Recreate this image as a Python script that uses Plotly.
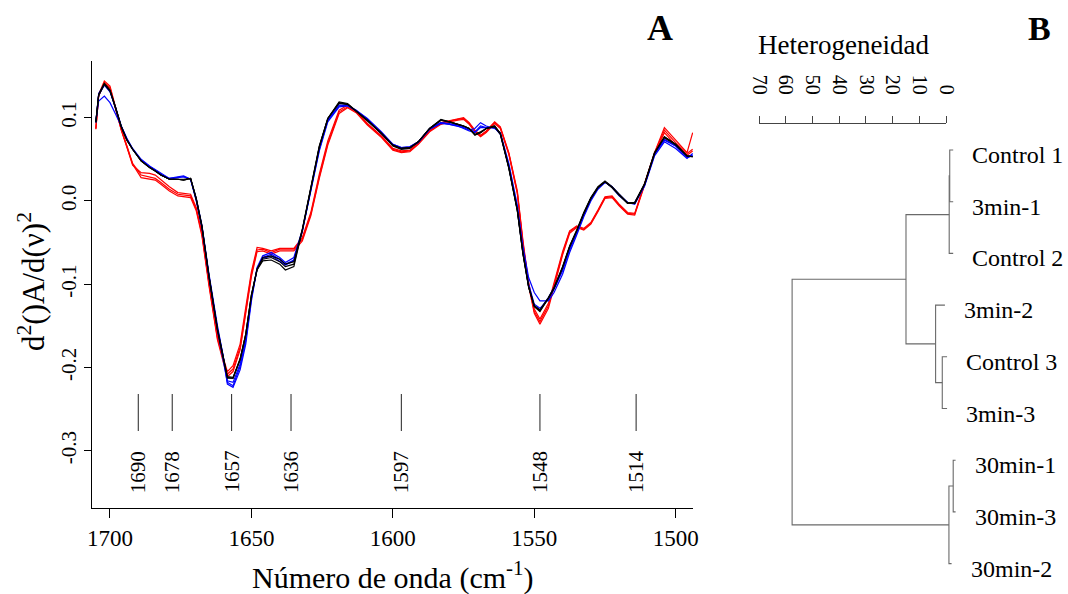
import plotly.graph_objects as go

W, H = 1068, 594
FONT = "Liberation Serif"

# ---------------- Panel A: second-derivative spectra ----------------
wavenumber = [1705, 1704, 1702, 1700, 1698, 1696, 1694, 1692, 1689, 1686,
              1684, 1682, 1679, 1676, 1674, 1671.5, 1669.5, 1667.5, 1665, 1662,
              1660, 1658.5, 1656.5, 1654, 1652, 1650, 1648, 1646, 1643, 1640,
              1638, 1635, 1632, 1629, 1626, 1623, 1619, 1616, 1613, 1609,
              1604, 1600, 1597, 1594, 1591, 1587, 1583, 1580, 1577, 1575,
              1573, 1571, 1569, 1567, 1564, 1562, 1559, 1556, 1554, 1552,
              1550, 1548, 1545, 1543, 1540, 1537.5, 1535, 1532.5, 1530, 1527.5,
              1525, 1522.5, 1520, 1517, 1514.5, 1511, 1507.5, 1504, 1500, 1496,
              1494]

control_1 = [0.095, 0.128, 0.141, 0.133, 0.112, 0.089, 0.073, 0.062, 0.048, 0.040,
             0.036, 0.031, 0.026, 0.026, 0.025, 0.027, 0.002, -0.031, -0.091, -0.155,
             -0.188, -0.213, -0.213, -0.190, -0.160, -0.113, -0.083, -0.072, -0.071, -0.076,
             -0.083, -0.079, -0.035, 0.015, 0.065, 0.099, 0.119, 0.117, 0.108, 0.097,
             0.081, 0.067, 0.063, 0.064, 0.071, 0.087, 0.098, 0.095, 0.092, 0.090,
             0.087, 0.079, 0.082, 0.087, 0.090, 0.081, 0.040, -0.011, -0.063, -0.103,
             -0.127, -0.133, -0.117, -0.105, -0.080, -0.055, -0.036, -0.015, 0.003, 0.016,
             0.023, 0.016, 0.007, -0.003, -0.003, 0.020, 0.057, 0.077, 0.068, 0.054,
             0.053]
control_2 = [0.094, 0.127, 0.140, 0.132, 0.111, 0.089, 0.073, 0.062, 0.048, 0.040,
             0.036, 0.031, 0.026, 0.026, 0.026, 0.027, 0.003, -0.030, -0.090, -0.154,
             -0.187, -0.211, -0.212, -0.190, -0.160, -0.113, -0.082, -0.068, -0.066, -0.070,
             -0.076, -0.073, -0.034, 0.016, 0.066, 0.099, 0.117, 0.116, 0.108, 0.097,
             0.081, 0.066, 0.062, 0.063, 0.071, 0.087, 0.097, 0.095, 0.092, 0.090,
             0.087, 0.080, 0.083, 0.087, 0.089, 0.080, 0.039, -0.012, -0.064, -0.104,
             -0.126, -0.131, -0.116, -0.104, -0.079, -0.054, -0.035, -0.014, 0.004, 0.017,
             0.024, 0.017, 0.008, -0.002, -0.002, 0.021, 0.058, 0.076, 0.067, 0.054,
             0.053]
control_3 = [0.095, 0.127, 0.141, 0.133, 0.112, 0.089, 0.073, 0.062, 0.048, 0.040,
             0.036, 0.031, 0.026, 0.026, 0.025, 0.027, 0.002, -0.031, -0.091, -0.155,
             -0.188, -0.212, -0.213, -0.191, -0.161, -0.114, -0.082, -0.070, -0.068, -0.073,
             -0.079, -0.076, -0.035, 0.015, 0.065, 0.099, 0.118, 0.116, 0.108, 0.097,
             0.081, 0.067, 0.063, 0.064, 0.071, 0.087, 0.097, 0.095, 0.092, 0.090,
             0.087, 0.079, 0.082, 0.087, 0.090, 0.081, 0.040, -0.011, -0.063, -0.103,
             -0.126, -0.132, -0.117, -0.105, -0.080, -0.055, -0.036, -0.015, 0.003, 0.016,
             0.023, 0.016, 0.007, -0.003, -0.003, 0.020, 0.057, 0.077, 0.068, 0.054,
             0.053]

min3_1 = [0.095, 0.120, 0.126, 0.118, 0.104, 0.089, 0.075, 0.063, 0.050, 0.042,
          0.038, 0.033, 0.027, 0.029, 0.030, 0.026, 0.003, -0.029, -0.088, -0.150,
          -0.186, -0.220, -0.224, -0.203, -0.172, -0.120, -0.080, -0.066, -0.062, -0.068,
          -0.074, -0.068, -0.035, 0.012, 0.060, 0.095, 0.113, 0.114, 0.109, 0.099,
          0.083, 0.068, 0.064, 0.065, 0.071, 0.086, 0.093, 0.092, 0.090, 0.088,
          0.085, 0.087, 0.094, 0.090, 0.087, 0.082, 0.045, -0.005, -0.055, -0.092,
          -0.110, -0.120, -0.120, -0.110, -0.088, -0.062, -0.041, -0.019, 0.000, 0.014,
          0.022, 0.017, 0.008, -0.002, -0.004, 0.018, 0.054, 0.071, 0.063, 0.051,
          0.057]
min3_2 = [0.095, 0.129, 0.140, 0.132, 0.111, 0.089, 0.074, 0.062, 0.049, 0.041,
          0.037, 0.032, 0.027, 0.028, 0.029, 0.026, 0.001, -0.031, -0.090, -0.153,
          -0.186, -0.216, -0.218, -0.196, -0.166, -0.116, -0.081, -0.068, -0.064, -0.070,
          -0.076, -0.071, -0.036, 0.014, 0.062, 0.097, 0.114, 0.115, 0.109, 0.098,
          0.082, 0.068, 0.064, 0.065, 0.071, 0.087, 0.094, 0.093, 0.091, 0.089,
          0.086, 0.083, 0.090, 0.088, 0.088, 0.081, 0.042, -0.009, -0.060, -0.100,
          -0.124, -0.129, -0.118, -0.106, -0.084, -0.059, -0.039, -0.017, 0.002, 0.015,
          0.023, 0.017, 0.007, -0.002, -0.003, 0.019, 0.056, 0.074, 0.066, 0.053,
          0.055]
min3_3 = [0.094, 0.127, 0.139, 0.131, 0.112, 0.090, 0.074, 0.062, 0.049, 0.041,
          0.036, 0.031, 0.026, 0.028, 0.029, 0.026, 0.000, -0.032, -0.092, -0.156,
          -0.190, -0.218, -0.222, -0.199, -0.168, -0.117, -0.082, -0.069, -0.066, -0.072,
          -0.077, -0.072, -0.037, 0.013, 0.063, 0.097, 0.115, 0.115, 0.108, 0.097,
          0.081, 0.067, 0.063, 0.064, 0.070, 0.086, 0.094, 0.092, 0.090, 0.087,
          0.084, 0.082, 0.088, 0.088, 0.088, 0.080, 0.041, -0.010, -0.062, -0.102,
          -0.126, -0.131, -0.116, -0.104, -0.082, -0.057, -0.037, -0.016, 0.003, 0.016,
          0.023, 0.016, 0.006, -0.002, -0.002, 0.019, 0.056, 0.073, 0.066, 0.052,
          0.054]

min30_1 = [0.087, 0.128, 0.144, 0.138, 0.112, 0.085, 0.064, 0.043, 0.034, 0.033,
           0.031, 0.025, 0.017, 0.010, 0.009, 0.008, -0.008, -0.038, -0.098, -0.163,
           -0.188, -0.205, -0.198, -0.172, -0.128, -0.085, -0.056, -0.057, -0.060, -0.057,
           -0.057, -0.057, -0.044, -0.014, 0.032, 0.072, 0.109, 0.115, 0.108, 0.093,
           0.078, 0.063, 0.060, 0.061, 0.070, 0.085, 0.094, 0.096, 0.098, 0.100,
           0.094, 0.085, 0.079, 0.084, 0.095, 0.089, 0.058, 0.012, -0.048, -0.098,
           -0.130, -0.142, -0.123, -0.099, -0.061, -0.036, -0.030, -0.033, -0.026, -0.011,
           0.005, 0.006, -0.004, -0.014, -0.015, 0.021, 0.058, 0.088, 0.073, 0.058,
           0.082]
min30_2 = [0.087, 0.127, 0.142, 0.136, 0.111, 0.086, 0.066, 0.045, 0.031, 0.029,
           0.027, 0.022, 0.014, 0.008, 0.007, 0.006, -0.010, -0.040, -0.100, -0.165,
           -0.190, -0.208, -0.202, -0.176, -0.132, -0.088, -0.059, -0.058, -0.062, -0.058,
           -0.058, -0.058, -0.046, -0.016, 0.029, 0.069, 0.107, 0.113, 0.107, 0.092,
           0.077, 0.062, 0.059, 0.060, 0.069, 0.084, 0.093, 0.096, 0.098, 0.099,
           0.093, 0.084, 0.078, 0.083, 0.094, 0.088, 0.057, 0.010, -0.050, -0.100,
           -0.133, -0.145, -0.126, -0.101, -0.063, -0.037, -0.031, -0.034, -0.027, -0.012,
           0.004, 0.005, -0.005, -0.015, -0.016, 0.020, 0.057, 0.085, 0.070, 0.057,
           0.062]
min30_3 = [0.086, 0.126, 0.141, 0.135, 0.110, 0.085, 0.065, 0.044, 0.028, 0.026,
           0.025, 0.020, 0.012, 0.006, 0.005, 0.004, -0.012, -0.042, -0.102, -0.167,
           -0.193, -0.211, -0.205, -0.179, -0.135, -0.091, -0.061, -0.060, -0.064, -0.060,
           -0.060, -0.060, -0.048, -0.018, 0.027, 0.067, 0.105, 0.112, 0.106, 0.091,
           0.076, 0.061, 0.058, 0.059, 0.068, 0.083, 0.092, 0.095, 0.097, 0.098,
           0.092, 0.083, 0.077, 0.082, 0.093, 0.087, 0.056, 0.009, -0.052, -0.102,
           -0.135, -0.148, -0.129, -0.103, -0.065, -0.039, -0.032, -0.035, -0.028, -0.013,
           0.003, 0.004, -0.006, -0.016, -0.017, 0.019, 0.056, 0.082, 0.067, 0.055,
           0.060]

band_positions = [1690, 1678, 1657, 1636, 1597, 1548, 1514]

# ---------------- Panel B: dendrogram ----------------
leaf_labels = ["Control 1", "3min-1", "Control 2", "3min-2", "Control 3",
               "3min-3", "30min-1", "30min-3", "30min-2"]
leaf_tip = [-2.7, -2.7, -2.7, 0.4, -0.4, -0.4, -3.6, -3.6, -2.1]
merge_left = ["Control 1", "m1", "Control 3", "3min-2", "m2", "30min-1", "m6", "m5"]
merge_right = ["3min-1", "Control 2", "3min-3", "m3", "m4", "30min-3", "30min-2", "m7"]
merge_height = [-1.4, -1.2, 1.4, 3.9, 15.0, -2.7, -1.1, 57.7]
het_ticks = [0, 10, 20, 30, 40, 50, 60, 70]

fig = go.Figure()

series = [
    (min30_1, "red"), (min30_2, "red"), (min30_3, "red"),
    (min3_1, "blue"), (min3_2, "blue"), (min3_3, "blue"),
    (control_1, "black"), (control_2, "black"), (control_3, "black"),
]
for vals, col in series:
    fig.add_trace(go.Scatter(x=wavenumber, y=vals, mode="lines",
                             line=dict(color=col, width=1.2),
                             xaxis="x", yaxis="y", showlegend=False,
                             hoverinfo="skip"))

# dendrogram geometry
node_x = {lab: t for lab, t in zip(leaf_labels, leaf_tip)}
node_y = {lab: i + 1 for i, lab in enumerate(leaf_labels)}
seg_x, seg_y = [], []
for k, (a, b, h) in enumerate(zip(merge_left, merge_right, merge_height)):
    name = f"m{k + 1}"
    ya, yb = node_y[a], node_y[b]
    seg_x += [node_x[a], h, h, node_x[b], None]
    seg_y += [ya, ya, yb, yb, None]
    node_x[name] = h
    node_y[name] = (ya + yb) / 2
fig.add_trace(go.Scatter(x=seg_x, y=seg_y, mode="lines",
                         line=dict(color="#6a6a6a", width=1.1),
                         xaxis="x2", yaxis="y2", showlegend=False,
                         hoverinfo="skip"))

# carrier for the heterogeneity scale
fig.add_trace(go.Scatter(x=het_ticks, y=[0] * len(het_ticks), mode="markers",
                         marker=dict(opacity=0), xaxis="x3", yaxis="y3",
                         showlegend=False, hoverinfo="skip"))

# ---------------- layout ----------------
def px_x(p):
    return p / W


def px_y(p):
    return 1 - p / H


# panel A pixel frame
ax_l, ax_r, ax_t, ax_b = 92, 693, 61, 508
y_zero_px, px_per_unit = 200.9, 832.5

# panel B: heterogeneity scale, 0 at 946 px, 70 at 759.3 px
h0_px, h_px = 946.0, (946.0 - 759.3) / 70
d_l, d_r = 760, 962
d_t, d_b = 130, 590
leaf_top_px, leaf_step = 150, 51.7

axis_font = dict(family=FONT, size=23, color="black")

fig.update_layout(
    width=W, height=H,
    margin=dict(l=0, r=0, t=0, b=0),
    paper_bgcolor="white", plot_bgcolor="white",
    font=dict(family=FONT, color="black"),
    xaxis=dict(domain=[px_x(ax_l), px_x(ax_r)],
               range=[1700 + (110 - ax_l) / 2.83, 1500 - (ax_r - 675.7) / 2.83],
               tickvals=[1700, 1650, 1600, 1550, 1500],
               ticks="outside", ticklen=9, tickcolor="black", tickwidth=1,
               showline=True, linecolor="black", linewidth=1,
               showgrid=False, zeroline=False, tickfont=axis_font,
               anchor="y", automargin=False),
    yaxis=dict(domain=[px_y(ax_b), px_y(ax_t)],
               range=[(y_zero_px - ax_b) / px_per_unit, (y_zero_px - ax_t) / px_per_unit],
               tickvals=[0.1, 0.0, -0.1, -0.2, -0.3],
               ticktext=["0.1", "0.0", "-0.1", "-0.2", "-0.3"],
               tickangle=-90,
               ticks="outside", ticklen=7, tickcolor="black", tickwidth=1,
               showline=True, linecolor="black", linewidth=1,
               showgrid=False, zeroline=False,
               tickfont=dict(family=FONT, size=21, color="black"),
               anchor="x", automargin=False),
    xaxis2=dict(domain=[px_x(d_l), px_x(d_r)],
                range=[(h0_px - d_l) / h_px, (h0_px - d_r) / h_px],
                visible=False, anchor="y2"),
    yaxis2=dict(domain=[px_y(d_b), px_y(d_t)],
                range=[1 + (d_b - leaf_top_px) / leaf_step,
                       1 + (d_t - leaf_top_px) / leaf_step],
                visible=False, anchor="x2"),
    xaxis3=dict(domain=[px_x(759.3), px_x(946)], range=[70, 0],
                tickvals=het_ticks, side="top", anchor="free",
                position=px_y(122.7), tickangle=90,
                ticks="outside", ticklen=7, tickcolor="#444", tickwidth=1,
                ticklabelstandoff=14,
                showline=True, linecolor="#444", linewidth=1,
                showgrid=False, zeroline=False,
                tickfont=dict(family=FONT, size=20, color="black"),
                automargin=False),
    yaxis3=dict(domain=[px_y(125), px_y(120)], visible=False, anchor="x3"),
)

# band markers with their wavenumbers
for b in band_positions:
    fig.add_shape(type="line", xref="x", yref="y", x0=b, x1=b,
                  y0=(y_zero_px - 394) / px_per_unit,
                  y1=(y_zero_px - 431) / px_per_unit,
                  line=dict(color="#222", width=1))
    fig.add_annotation(x=b, y=(y_zero_px - 472) / px_per_unit, xref="x", yref="y",
                       text=str(b), textangle=-90, showarrow=False,
                       xanchor="center", yanchor="middle",
                       font=dict(family=FONT, size=21, color="black"))

# leaf labels
for lab, t in zip(leaf_labels, leaf_tip):
    fig.add_annotation(x=t, y=node_y[lab], xref="x2", yref="y2", text=lab,
                       xanchor="left", yanchor="middle", xshift=17, yshift=-5,
                       showarrow=False,
                       font=dict(family=FONT, size=24, color="black"))


def paper_text(x, y, text, size, angle=0):
    fig.add_annotation(x=px_x(x), y=px_y(y), xref="paper", yref="paper",
                       text=text, textangle=angle, showarrow=False,
                       xanchor="center", yanchor="middle",
                       font=dict(family=FONT, size=size, color="black"))


# titles and panel letters
paper_text(392.5, 575, "Número de onda (cm<sup>-1</sup>)", 30)
paper_text(32, 282, "d<sup>2</sup>()A/d(ν)<sup>2</sup>", 31, angle=-90)
paper_text(843, 45, "Heterogeneidad", 27)
paper_text(660, 28, "<b>A</b>", 36)
paper_text(1039, 28, "<b>B</b>", 34)

fig.write_html("out.html")
